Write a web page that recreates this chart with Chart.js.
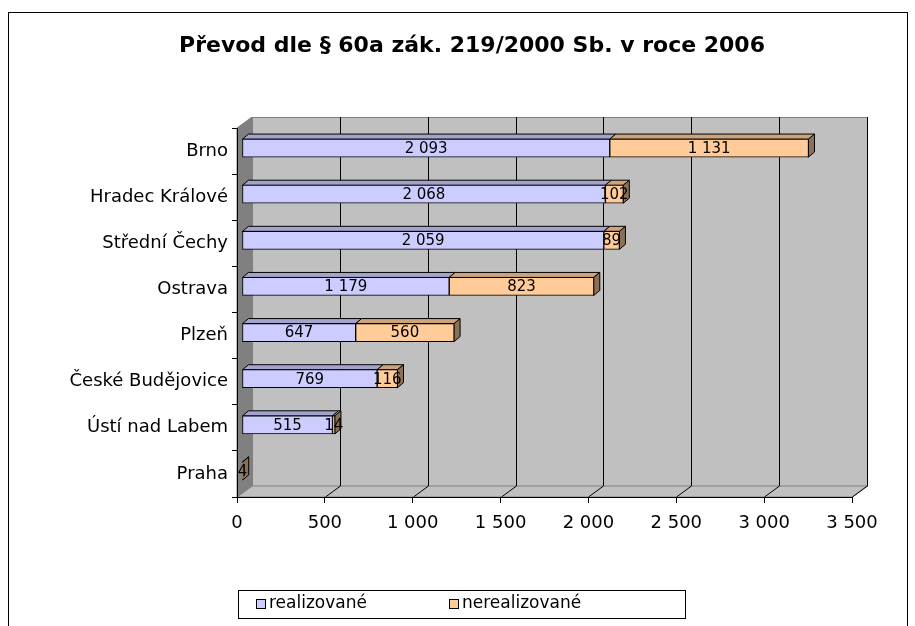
<!DOCTYPE html>
<html>
<head>
<meta charset="utf-8">
<script src="https://cdn.jsdelivr.net/npm/chart.js@4.4.0/dist/chart.umd.min.js"></script>
<style>
  html, body { margin: 0; padding: 0; background: #fff; }
</style>
</head>
<body>
<canvas id="chart" width="915" height="626"></canvas>
<script>
// values
const categories = ['Brno', 'Hradec Králové', 'Střední Čechy', 'Ostrava', 'Plzeň', 'České Budějovice', 'Ústí nad Labem', 'Praha'];
const realizovane = [2093, 2068, 2059, 1179, 647, 769, 515, 0];
const nerealizovane = [1131, 102, 89, 823, 560, 116, 14, 4];
const seriesNames = ['realizované', 'nerealizované'];
const axisMax = 3500;
const axisStep = 500;
const chartTitle = 'Převod dle § 60a zák. 219/2000 Sb. v roce 2006';

// colours of the faces (front, top, side)
const frontColors = ['#ccccff', '#ffcc99'];
const topColors = ['#a3a3cc', '#cca37a'];
const sideColors = ['#70708c', '#8c7054'];

// fake 3D offsets
const wallDX = 15, wallDY = -11;
const barShiftX = 5, barShiftY = -3;
const barDX = 6, barDY = -5;

const FONT = "'DejaVu Sans', sans-serif";

// 2093 -> "2 093"
function spaced(v) {
    return String(v).replace(/\B(?=(\d{3})+(?!\d))/g, ' ');
}

function poly(ctx, pts, fill) {
    ctx.beginPath();
    ctx.moveTo(pts[0][0], pts[0][1]);
    for (let i = 1; i < pts.length; i++) ctx.lineTo(pts[i][0], pts[i][1]);
    ctx.closePath();
    ctx.fillStyle = fill;
    ctx.fill();
    ctx.stroke();
}

// walls, floor, bar faces, labels, title and legend
const plot3d = {
    id: 'plot3d',
    beforeDraw(chart) {
        const ctx = chart.ctx;
        const a = chart.chartArea;
        const xs = chart.scales.x;
        ctx.save();
        ctx.lineWidth = 1;
        ctx.strokeStyle = '#808080';

        // back wall
        ctx.fillStyle = '#c0c0c0';
        ctx.fillRect(a.left + wallDX, a.top + wallDY, a.right - a.left, a.bottom - a.top);
        ctx.strokeRect(a.left + wallDX + 0.5, a.top + wallDY + 0.5, a.right - a.left, a.bottom - a.top);

        // floor
        poly(ctx, [[a.left, a.bottom], [a.left + wallDX, a.bottom + wallDY],
                   [a.right + wallDX, a.bottom + wallDY], [a.right, a.bottom]], '#c0c0c0');

        // left wall
        poly(ctx, [[a.left, a.top], [a.left + wallDX, a.top + wallDY],
                   [a.left + wallDX, a.bottom + wallDY], [a.left, a.bottom]], '#808080');

        // gridlines on the back wall and the floor
        ctx.strokeStyle = '#000';
        xs.ticks.forEach(t => {
            if (t.value === 0) return;
            const x = Math.round(xs.getPixelForValue(t.value)) + 0.5;
            ctx.beginPath();
            ctx.moveTo(x + wallDX, a.top + wallDY);
            ctx.lineTo(x + wallDX, a.bottom + wallDY);
            ctx.lineTo(x, a.bottom);
            ctx.stroke();
        });
        ctx.restore();
    },
    beforeDatasetsDraw(chart) {
        const ctx = chart.ctx;
        ctx.save();
        ctx.translate(barShiftX, barShiftY);
        ctx.lineWidth = 1;
        ctx.strokeStyle = '#000';
        const sets = chart.data.datasets;
        for (let i = 0; i < chart.data.labels.length; i++) {
            // last non-zero segment gets the right face
            let last = -1;
            sets.forEach((ds, d) => { if (ds.data[i] > 0) last = d; });
            sets.forEach((ds, d) => {
                if (!(ds.data[i] > 0)) return;
                const el = chart.getDatasetMeta(d).data[i];
                const p = el.getProps(['x', 'y', 'base', 'height'], true);
                const x1 = Math.min(p.x, p.base), x2 = Math.max(p.x, p.base);
                const yt = p.y - p.height / 2, yb = p.y + p.height / 2;
                poly(ctx, [[x1, yt], [x2, yt], [x2 + barDX, yt + barDY], [x1 + barDX, yt + barDY]], topColors[d]);
                if (d === last) {
                    poly(ctx, [[x2, yt], [x2 + barDX, yt + barDY], [x2 + barDX, yb + barDY], [x2, yb]], sideColors[d]);
                }
            });
        }
        // stays translated while the fronts are drawn
    },
    afterDatasetsDraw(chart) {
        const ctx = chart.ctx;
        ctx.restore();

        // value labels in the middle of each segment
        ctx.save();
        ctx.font = '15px ' + FONT;
        ctx.fillStyle = '#000';
        ctx.textAlign = 'center';
        ctx.textBaseline = 'middle';
        chart.data.datasets.forEach((ds, d) => {
            chart.getDatasetMeta(d).data.forEach((el, i) => {
                const v = ds.data[i];
                if (!(v > 0)) return;
                const p = el.getProps(['x', 'y', 'base'], true);
                ctx.fillText(spaced(v), (p.x + p.base) / 2 + barShiftX, p.y + barShiftY + 1);
            });
        });
        ctx.restore();
    },
    afterDraw(chart) {
        const ctx = chart.ctx;
        ctx.save();

        // outer frame
        ctx.strokeStyle = '#000';
        ctx.lineWidth = 1;
        ctx.strokeRect(8.5, 12.5, 899, 700);

        // title
        ctx.font = 'bold 22px ' + FONT;
        ctx.fillStyle = '#000';
        ctx.textAlign = 'center';
        ctx.textBaseline = 'middle';
        ctx.fillText(chartTitle, 472, 46);

        // legend box
        ctx.strokeRect(238.5, 590.5, 447, 28);
        const itemX = [256, 449];
        ctx.font = '17px ' + FONT;
        ctx.textAlign = 'left';
        chart.data.datasets.forEach((ds, d) => {
            ctx.fillStyle = frontColors[d];
            ctx.fillRect(itemX[d] + 0.5, 599.5, 9, 9);
            ctx.strokeRect(itemX[d] + 0.5, 599.5, 9, 9);
            ctx.fillStyle = '#000';
            ctx.fillText(ds.label, itemX[d] + 13, 604);
        });
        ctx.restore();
    }
};

const ctx = document.getElementById('chart');

const displayedChart = new Chart(ctx, {
    type: 'bar',
    data: {
        labels: categories,
        datasets: [
            { label: seriesNames[0], data: realizovane, backgroundColor: frontColors[0] },
            { label: seriesNames[1], data: nerealizovane, backgroundColor: frontColors[1] }
        ]
    },
    options: {
        indexAxis: 'y',
        responsive: false,
        animation: false,
        layout: { padding: { top: 128, left: 8, right: 63, bottom: 0 } },
        datasets: {
            bar: {
                borderColor: '#000',
                borderWidth: 1,
                borderSkipped: false,
                barThickness: 18,
                clip: false
            }
        },
        plugins: {
            legend: { display: false },
            tooltip: { enabled: false }
        },
        scales: {
            x: {
                stacked: true,
                min: 0,
                max: axisMax,
                ticks: {
                    stepSize: axisStep,
                    color: '#000',
                    font: { family: FONT, size: 18 },
                    padding: 10,
                    maxRotation: 0,
                    callback: v => spaced(v)
                },
                grid: { drawOnChartArea: false, color: '#000', tickLength: 6 },
                border: { color: '#000' },
                afterFit: scale => { scale.height = 129; }
            },
            y: {
                stacked: true,
                ticks: {
                    color: '#000',
                    font: { family: FONT, size: 18 },
                    padding: 4
                },
                grid: { drawOnChartArea: false, color: '#000', tickLength: 5, offset: true },
                border: { color: '#000' },
                afterFit: scale => { scale.width = 229; }
            }
        }
    },
    plugins: [plot3d]
});
</script>
</body>
</html>
